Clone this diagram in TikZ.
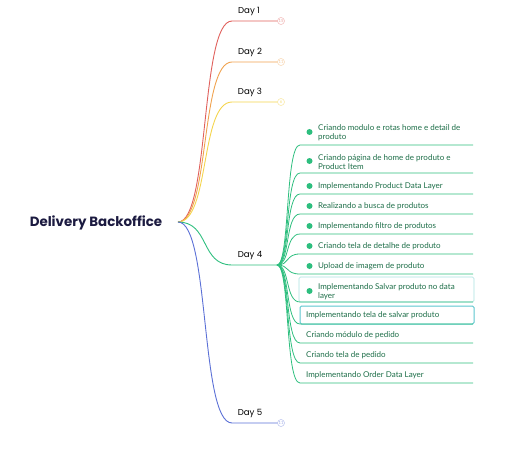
\documentclass[tikz,border=0pt]{standalone}
\usepackage{fontspec}
\setmainfont{Lato}
\newfontfamily\headfont{Poppins}
\usepackage{tikz}
\usetikzlibrary{positioning}
\definecolor{rootcol}{HTML}{1B1A40}
\definecolor{dayone}{HTML}{E0605C}
\definecolor{daytwo}{HTML}{F0A24E}
\definecolor{daythree}{HTML}{F4D44C}
\definecolor{dayfour}{HTML}{2DBE7E}
\definecolor{dayfive}{HTML}{5B70D6}
\definecolor{tasktext}{HTML}{1D6E48}
\definecolor{hlpale}{HTML}{A9E2E0}
\definecolor{hlstrong}{HTML}{5CC6CF}
\tikzset{
		root/.style={font=\headfont\bfseries\fontsize{13.4}{15}\selectfont, text=rootcol, inner sep=0pt},
		day label/.style={font=\headfont\fontsize{8.6}{10}\selectfont, inner sep=0pt},
		count/.style={circle, draw, line width=0.5pt, inner sep=0pt, minimum size=7pt, fill=white, font=\fontsize{4.2}{4.5}\selectfont},
		branch/.style={line width=0.9pt},
		task/.style={anchor=west, align=left, inner sep=0pt, text=tasktext, font=\fontsize{8}{9}\selectfont},
		bullet/.style={circle, fill=dayfour, inner sep=0pt, minimum size=6pt},
		hlbox/.style={draw, rounded corners=1.5pt, fill=white}
	}

\begin{document}
\begin{tikzpicture}[x=1pt,y=-1pt]
				\useasboundingbox (0,0) rectangle (512,452);
				% root and days
				\node[root]                      (root) at (96,223)   {Delivery Backoffice};
				\coordinate                      (hub)  at (178,222);
				\coordinate                      (edge) at (473,0);
				
				\node[day label]                 (day1) at (249,11.5) {Day 1};
				\node[day label]                 (day2) at (250,52.5) {Day 2};
				\node[day label]                 (day3) at (250,92.5) {Day 3};
				\node[day label]                 (day4) at (250,255.5){Day 4};
				\node[day label]                 (day5) at (250,413.5){Day 5};
				
				\coordinate (d1) at (232,21);
				\coordinate (d2) at (232,62);
				\coordinate (d3) at (232,102);
				\coordinate (d4) at (232,265);
				\coordinate (d5) at (232,423);
				\coordinate (j4) at (277,265);
				
				\node[count, draw=dayone!45, text=dayone!60]     (c1) at (281,21)  {15};
				\node[count, draw=daytwo!45, text=daytwo!60]     (c2) at (281,62)  {11};
				\node[count, draw=daythree!55, text=daythree!70] (c3) at (281,102) {6};
				\node[count, draw=dayfive!45, text=dayfive!60]   (c5) at (281,423) {11};
				
				\draw[branch, dayone]   (hub) .. controls (210,222) and (200,21)  .. (d1) -- (c1);
				\draw[branch, daytwo]   (hub) .. controls (210,222) and (200,62)  .. (d2) -- (c2);
				\draw[branch, daythree] (hub) .. controls (210,222) and (200,102) .. (d3) -- (c3);
				\draw[branch, dayfour]  (hub) .. controls (210,222) and (200,265) .. (d4) -- (j4);
				\draw[branch, dayfive]  (hub) .. controls (210,222) and (200,423) .. (d5) -- (c5);
				
				% highlighted tasks
				\draw[hlbox, draw=hlpale, line width=0.6pt]  (299,277) rectangle (474,302);
				\draw[hlbox, draw=hlstrong, line width=1pt]  (300,306) rectangle (474,324);
				
				% day 4 tasks
				\coordinate (l1)  at (300,145);
				\coordinate (l2)  at (300,173);
				\coordinate (l3)  at (300,194);
				\coordinate (l4)  at (300,214);
				\coordinate (l5)  at (300,234);
				\coordinate (l6)  at (300,254);
				\coordinate (l7)  at (300,274);
				\coordinate (l8)  at (300,302);
				\coordinate (l9)  at (300,324);
				\coordinate (l10) at (300,343);
				\coordinate (l11) at (300,363);
				\coordinate (l12) at (300,383);
				
				\foreach \l in {l1,l2,l3,l4,l5,l6,l7,l8,l9,l10,l11,l12}
					\draw[branch, dayfour, line width=0.8pt] (j4) .. controls +(13,0) and +(-15,0) .. (\l) -- (\l -| edge);
				
				\node[task] (t1)  at (318,133) {Criando modulo e rotas home e detail de\\produto};
				\node[task] (t2)  at (318,162) {Criando página de home de produto e\\Product Item};
				\node[task] (t3)  at (318,186.5) {Implementando Product Data Layer};
				\node[task] (t4)  at (318,206.5) {Realizando a busca de produtos};
				\node[task] (t5)  at (318,226.5) {Implementando filtro de produtos};
				\node[task] (t6)  at (318,246.5) {Criando tela de detalhe de produto};
				\node[task] (t7)  at (318,266.5) {Upload de imagem de produto};
				\node[task] (t8)  at (318,291.5) {Implementando Salvar produto no data\\layer};
				\node[task] (t9)  at (306,315.5) {Implementando tela de salvar produto};
				\node[task] (t10) at (306,335.5) {Criando módulo de pedido};
				\node[task] (t11) at (306,355.5) {Criando tela de pedido};
				\node[task] (t12) at (306,375.5) {Implementando Order Data Layer};
				
				\node[bullet] (b1) at (309.5,132) {};
				\node[bullet] (b2) at (309.5,161) {};
				\node[bullet] (b3) at (309.5,186) {};
				\node[bullet] (b4) at (309.5,206) {};
				\node[bullet] (b5) at (309.5,226) {};
				\node[bullet] (b6) at (309.5,246) {};
				\node[bullet] (b7) at (309.5,266) {};
				\node[bullet] (b8) at (309.5,291) {};
			\end{tikzpicture}
\end{document}
